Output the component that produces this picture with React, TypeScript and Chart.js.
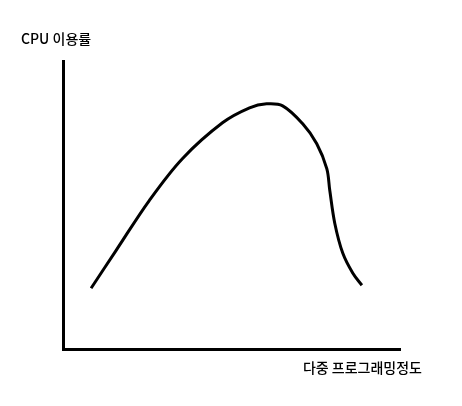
import React, { useEffect, useRef } from "react";
import { Chart, registerables } from "chart.js";

Chart.register(...registerables);

const yAxisLabel = "CPU 이용률";
const xAxisLabel = "다중 프로그래밍정도";

const degree = [28, 53, 86, 119, 159, 186, 203, 219, 239, 253, 263, 266, 271, 279, 289, 298];
const utilization = [61, 99, 149, 191, 227, 242, 246, 244, 226, 206, 181, 159, 126, 96, 76, 64];

const labelPlugin = {
  id: "axisLabels",
  afterDraw(chart: any) {
    const { ctx, chartArea } = chart;
    ctx.save();
    ctx.fillStyle = "#000";
    ctx.font = "500 14px 'Noto Sans CJK KR', 'Noto Sans', sans-serif";
    ctx.textBaseline = "middle";
    ctx.textAlign = "left";
    ctx.fillText(yAxisLabel, chartArea.left - 42, chartArea.top - 22);
    ctx.textAlign = "right";
    ctx.fillText(xAxisLabel, chartArea.right + 22, chartArea.bottom + 19);
    ctx.restore();
  },
};

export default function App() {
  const ref = useRef<HTMLCanvasElement>(null);
  useEffect(() => {
    if (!ref.current) return;
    const chart = new Chart(ref.current, {
      type: "line",
      data: {
        datasets: [
          {
            data: degree.map((x, i) => ({ x, y: utilization[i] })),
            borderColor: "#000",
            borderWidth: 3,
            pointRadius: 0,
            tension: 0.35,
            fill: false,
          },
        ],
      },
      options: {
        animation: false,
        responsive: false,
        layout: { padding: { left: 63, right: 62, top: 61, bottom: 57 } },
        plugins: { legend: { display: false }, tooltip: { enabled: false }, title: { display: false } },
        scales: {
          x: {
            type: "linear",
            min: 0,
            max: 336,
            grid: { display: false, drawTicks: false },
            ticks: { display: false },
            border: { display: true, width: 3, color: "#000" },
          },
          y: {
            min: 0,
            max: 289,
            grid: { display: false, drawTicks: false },
            ticks: { display: false },
            border: { display: true, width: 3, color: "#000" },
          },
        },
      },
      plugins: [labelPlugin],
    });
    return () => chart.destroy();
  }, []);
  return (
    <div style={{ position: "fixed", left: 0, top: 0, width: 462, height: 406, background: "#fff" }}>
      <canvas ref={ref} width={462} height={406} />
    </div>
  );
}
